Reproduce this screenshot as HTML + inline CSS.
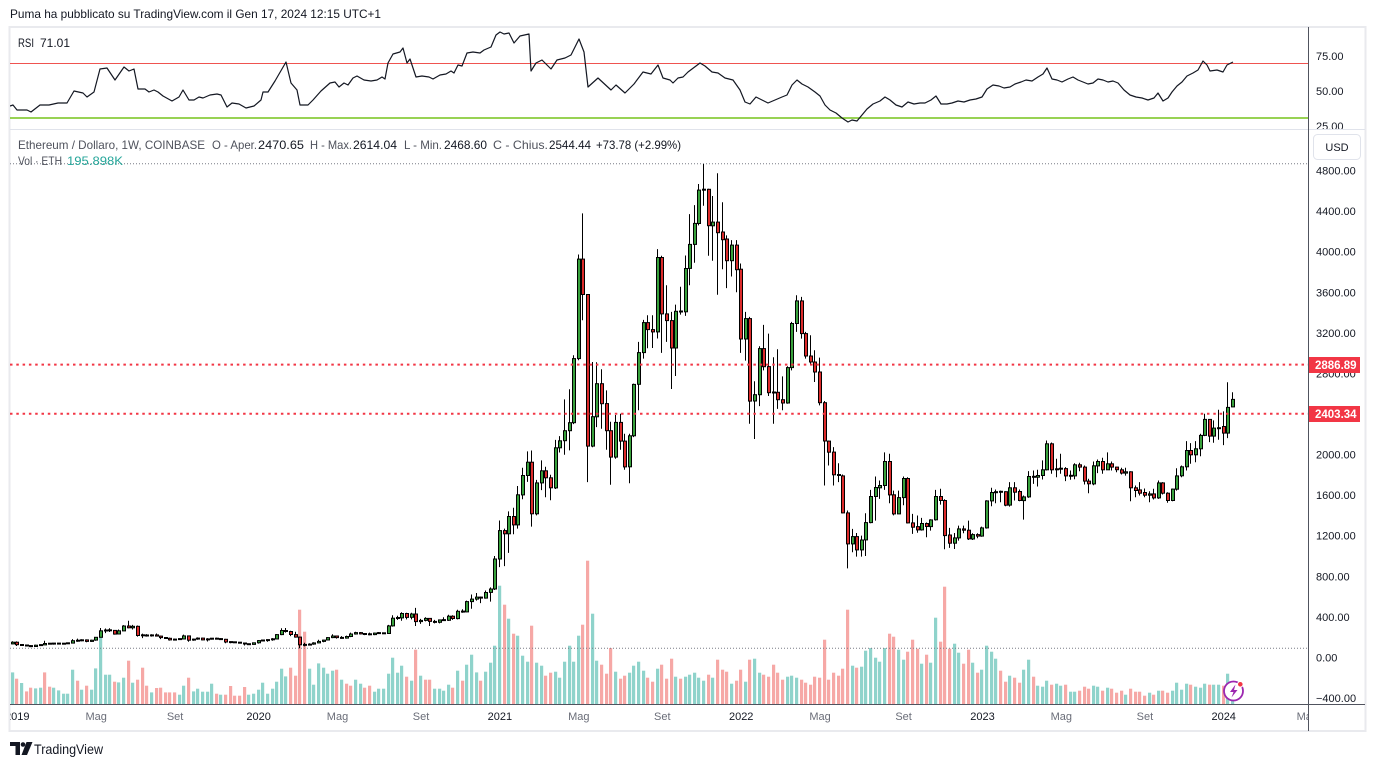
<!DOCTYPE html>
<html><head><meta charset="utf-8">
<style>
html,body{margin:0;padding:0;background:#fff;width:1375px;height:767px;overflow:hidden}
svg{display:block;font-family:"Liberation Sans",sans-serif}
</style></head>
<body>
<svg id="s" width="1375" height="767" viewBox="0 0 1375 767" xmlns="http://www.w3.org/2000/svg">
<defs>
<clipPath id="cp"><rect x="10" y="130" width="1298" height="574"/></clipPath>
<clipPath id="cr"><rect x="10" y="28" width="1298" height="101"/></clipPath>
<clipPath id="cx"><rect x="10" y="705" width="1298" height="25"/></clipPath>
</defs>
<rect x="0" y="0" width="1375" height="767" fill="#fff"/>
<text x="10" y="18" font-size="12" fill="#131722" textLength="371" lengthAdjust="spacingAndGlyphs">Puma ha pubblicato su TradingView.com il Gen 17, 2024 12:15 UTC+1</text>

<!-- frame -->
<rect x="9.5" y="27" width="1356" height="704" fill="none" stroke="#e9eaee" stroke-width="2"/>

<!-- RSI pane -->
<g clip-path="url(#cr)">
<line x1="10" x2="1308" y1="63.5" y2="63.5" stroke="#ef5350" stroke-width="1"/>
<line x1="10" x2="1308" y1="118" y2="118" stroke="#76c41c" stroke-width="1.6"/>
<polyline id="rsi" fill="none" stroke="#131722" stroke-width="1.2" stroke-linejoin="round"/>
</g>
<text x="18" y="47" font-size="12" fill="#131722" textLength="16" lengthAdjust="spacingAndGlyphs">RSI</text>
<text x="40" y="47" font-size="12" fill="#131722" textLength="30" lengthAdjust="spacingAndGlyphs">71.01</text>
<text x="1316" y="60" font-size="11" fill="#131722">75.00</text>
<text x="1316" y="95" font-size="11" fill="#131722">50.00</text>
<text x="1316" y="130" font-size="11" fill="#131722">25.00</text>
<line x1="10" x2="1365" y1="129.5" y2="129.5" stroke="#e0e3eb" stroke-width="1"/>

<!-- price pane -->
<g clip-path="url(#cp)">
<g id="vol"></g>
<line x1="10" x2="1308" y1="163.7" y2="163.7" stroke="#787b86" stroke-width="1" stroke-dasharray="1 2"/>
<line x1="10" x2="1308" y1="648.3" y2="648.3" stroke="#787b86" stroke-width="1" stroke-dasharray="1 2"/>
<g id="wick" stroke="#000" stroke-width="1"></g>
<g id="body" stroke="#000" stroke-width="1"></g>
<line x1="10" x2="1308" y1="364.6" y2="364.6" stroke="#f23645" stroke-width="2" stroke-dasharray="2.5 3.8"/>
<line x1="10" x2="1308" y1="413.7" y2="413.7" stroke="#f23645" stroke-width="2" stroke-dasharray="2.5 3.8"/>
<!-- purple icon -->
<circle cx="1233.5" cy="691" r="9.5" fill="#fff" stroke="#9c27b0" stroke-width="1.8"/>
<path d="M1235.5 684.5 L1230 692 L1233.5 692 L1231.5 697.5 L1237.5 690 L1234 690 Z" fill="#9c27b0"/>
<circle cx="1240.3" cy="684.3" r="2.8" fill="#f23645" stroke="#fff" stroke-width="1"/>
</g>

<text x="18" y="149" font-size="12" fill="#4f525c" textLength="187" lengthAdjust="spacingAndGlyphs">Ethereum / Dollaro, 1W, COINBASE</text>
<text x="212" y="149" font-size="12" fill="#4f525c" textLength="45" lengthAdjust="spacingAndGlyphs">O - Aper.</text>
<text x="258" y="149" font-size="12" fill="#131722" textLength="46" lengthAdjust="spacingAndGlyphs">2470.65</text>
<text x="310" y="149" font-size="12" fill="#4f525c" textLength="42" lengthAdjust="spacingAndGlyphs">H - Max.</text>
<text x="353" y="149" font-size="12" fill="#131722" textLength="44" lengthAdjust="spacingAndGlyphs">2614.04</text>
<text x="404" y="149" font-size="12" fill="#4f525c" textLength="38" lengthAdjust="spacingAndGlyphs">L - Min.</text>
<text x="444" y="149" font-size="12" fill="#131722" textLength="43" lengthAdjust="spacingAndGlyphs">2468.60</text>
<text x="493" y="149" font-size="12" fill="#4f525c" textLength="55" lengthAdjust="spacingAndGlyphs">C - Chius.</text>
<text x="549" y="149" font-size="12" fill="#131722" textLength="42" lengthAdjust="spacingAndGlyphs">2544.44</text>
<text x="596" y="149" font-size="12" fill="#131722" textLength="85" lengthAdjust="spacingAndGlyphs">+73.78 (+2.99%)</text>
<text x="18" y="165" font-size="12" fill="#4f525c" textLength="44" lengthAdjust="spacingAndGlyphs">Vol · ETH</text>
<text x="67" y="165" font-size="12" fill="#26a69a" textLength="56" lengthAdjust="spacingAndGlyphs">195.898K</text>

<!-- axes -->
<line x1="1308.5" x2="1308.5" y1="27" y2="731" stroke="#50535e" stroke-width="1"/>
<line x1="10" x2="1365" y1="704.5" y2="704.5" stroke="#50535e" stroke-width="1"/>

<g font-size="11" fill="#131722">
<text x="1316" y="174.6">4800.00</text>
<text x="1316" y="215.2">4400.00</text>
<text x="1316" y="255.7">4000.00</text>
<text x="1316" y="296.3">3600.00</text>
<text x="1316" y="336.9">3200.00</text>
<text x="1316" y="377.4">2800.00</text>
<text x="1316" y="458.6">2000.00</text>
<text x="1316" y="499.1">1600.00</text>
<text x="1316" y="539.7">1200.00</text>
<text x="1316" y="580.3">800.00</text>
<text x="1316" y="620.8">400.00</text>
<text x="1316" y="661.4">0.00</text>
<text x="1316" y="702">−400.00</text>
</g>
<rect x="1309" y="357" width="51" height="16" fill="#f23645"/>
<text x="1315" y="369" font-size="11.5" font-weight="bold" fill="#fff">2886.89</text>
<rect x="1309" y="406" width="51" height="16" fill="#f23645"/>
<text x="1315" y="418" font-size="11.5" font-weight="bold" fill="#fff">2403.34</text>
<rect x="1313.5" y="134.5" width="47" height="25" rx="4" fill="#fff" stroke="#e0e3eb"/>
<text x="1337" y="151" font-size="11" fill="#131722" text-anchor="middle">USD</text>

<g clip-path="url(#cx)" font-size="11" text-anchor="middle">
<text x="17.3" y="720" fill="#131722">2019</text>
<text x="96.2" y="720" fill="#6a6d78">Mag</text>
<text x="175.1" y="720" fill="#6a6d78">Set</text>
<text x="258.6" y="720" fill="#131722">2020</text>
<text x="337.5" y="720" fill="#6a6d78">Mag</text>
<text x="421" y="720" fill="#6a6d78">Set</text>
<text x="499.9" y="720" fill="#131722">2021</text>
<text x="578.8" y="720" fill="#6a6d78">Mag</text>
<text x="662.3" y="720" fill="#6a6d78">Set</text>
<text x="741.2" y="720" fill="#131722">2022</text>
<text x="820.1" y="720" fill="#6a6d78">Mag</text>
<text x="903.6" y="720" fill="#6a6d78">Set</text>
<text x="982.5" y="720" fill="#131722">2023</text>
<text x="1061.3" y="720" fill="#6a6d78">Mag</text>
<text x="1144.9" y="720" fill="#6a6d78">Set</text>
<text x="1223.7" y="720" fill="#131722">2024</text>
<text x="1307.3" y="720" fill="#6a6d78">Mag</text>
</g>

<!-- TradingView logo -->
<g fill="#131722">
<path d="M10 742 H20 V755 H15.5 V746 H10 Z"/>
<circle cx="23" cy="744.5" r="2.3"/>
<path d="M26.5 742 H32.5 L27 755 H21.5 Z"/>
</g>
<text x="34" y="754" font-size="14" fill="#131722" textLength="69" lengthAdjust="spacingAndGlyphs">TradingView</text>
</svg>

<script>
(function(){
var D=[
[133,160,130,150],[150,158,112,125],[125,132,116,120],[120,124,112,115],[115,120,102,107],[107,125,104,120],[120,126,118,123],[123,165,122,137],[137,140,130,134],[134,140,126,138],
[138,140,130,134],[134,142,132,137],[137,143,134,141],[141,180,140,165],[165,185,155,164],[164,178,160,173],[173,177,150,158],[158,175,155,170],[170,200,165,198],[198,290,196,262],
[262,285,240,268],[268,288,250,266],[266,270,225,230],[230,275,228,262],[262,318,260,310],[310,362,288,292],[292,320,275,307],[307,315,205,216],[216,235,190,220],[220,230,205,212],
[212,228,205,222],[222,236,208,210],[210,215,180,195],[195,200,182,188],[188,195,166,172],[172,185,168,180],[180,185,173,181],[181,225,178,212],[212,215,155,170],[170,185,165,180],
[180,197,175,190],[190,194,170,172],[172,190,157,182],[182,190,176,186],[186,195,180,183],[183,190,175,178],[178,182,140,151],[151,158,140,151],[151,153,142,147],[147,148,140,142],
[142,146,117,132],[132,135,125,128],[128,145,127,144],[144,172,136,166],[166,175,157,167],[167,175,155,175],[175,190,165,182],[182,230,180,225],[225,288,220,265],[265,290,245,255],
[255,262,210,225],[225,252,195,200],[200,205,90,124],[124,145,108,122],[122,140,120,131],[131,150,125,143],[143,175,140,158],[158,175,150,171],[171,200,168,195],[195,228,190,211],
[211,216,185,195],[195,210,185,190],[190,215,185,206],[206,245,200,231],[231,252,225,245],[245,250,226,232],[232,238,220,230],[230,245,218,225],[225,245,220,240],[240,250,234,240],
[240,245,232,236],[236,320,235,311],[311,415,304,387],[387,410,370,390],[390,445,362,433],[433,440,375,395],[395,440,375,428],[428,488,310,353],[353,380,330,365],[365,395,355,385],
[385,385,310,355],[355,370,335,346],[346,372,335,370],[370,395,360,366],[366,420,360,406],[406,415,370,383],[383,470,375,455],[455,475,440,448],[448,560,445,550],[550,620,480,575],
[575,635,560,595],[595,600,535,585],[585,660,580,640],[640,690,550,674],[674,1000,665,970],[970,1350,890,1250],[1250,1270,900,1218],[1218,1440,1030,1389],[1389,1475,1215,1306],[1306,1690,1270,1603],
[1603,1870,1560,1794],[1794,2031,1730,1925],[1925,2040,1290,1416],[1416,1750,1400,1721],[1721,1942,1650,1840],[1840,1880,1580,1771],[1771,1800,1550,1672],[1672,2145,1660,2067],[2067,2182,2020,2136],[2136,2544,1998,2235],
[2235,2643,2041,2314],[2314,2979,2300,2946],[2946,3973,2930,3927],[3927,4378,3325,3578],[3578,3580,1728,2083],[2083,2913,2073,2373],[2373,2910,2271,2699],[2699,2841,2255,2502],[2502,2633,2047,2235],[2235,2324,1702,1975],
[1975,2390,1958,2317],[2317,2403,2047,2133],[2133,2205,1850,1879],[1879,2205,1718,2185],[2185,2700,2172,2692],[2692,3111,2436,3005],[3005,3328,2946,3301],[3301,3374,3048,3232],[3232,3374,3051,3209],[3209,4026,3144,3943],
[3943,3960,3002,3387],[3387,3670,3111,3321],[3321,3407,2646,3051],[3051,3479,2775,3413],[3413,3654,3380,3408],[3408,3963,3367,3835],[3835,4371,3670,4072],[4072,4460,3891,4279],[4279,4668,4260,4608],[4608,4865,4454,4615],
[4615,4620,3960,4256],[4256,4549,3911,4292],[4292,4773,3575,4187],[4194,4487,3828,4118],[4125,4161,3641,3911],[3911,4115,3756,4065],[4065,4115,3600,3822],[3828,3884,3002,3140],[3140,3407,2926,3341],[3341,3357,2304,2528],
[2528,2722,2153,2590],[2590,3068,2478,3045],[3045,3278,2830,2867],[2867,3193,2577,2610],[2610,2960,2304,2614],[2614,3038,2450,2541],[2541,2771,2436,2508],[2508,2870,2501,2857],[2857,3308,2830,3292],[3292,3571,3209,3515],
[3515,3555,3143,3193],[3193,3209,2946,2972],[2972,3176,2880,2913],[2913,3028,2715,2814],[2814,2956,2485,2511],[2511,2528,1695,2133],[2133,2139,1892,2024],[2024,2074,1695,1800],[1800,1915,1728,1797],[1790,1803,1420,1425],
[1425,1448,878,1119],[1119,1267,1036,1191],[1191,1227,994,1060],[1060,1201,994,1158],[1158,1422,1000,1329],[1329,1652,1323,1586],[1586,1784,1349,1675],[1672,1744,1563,1695],[1695,2021,1652,1932],[1932,2008,1520,1603],
[1603,1645,1400,1415],[1415,1645,1415,1576],[1576,1784,1500,1764],[1764,1777,1320,1326],[1326,1415,1218,1284],[1290,1399,1230,1257],[1257,1375,1250,1320],[1320,1330,1185,1290],[1290,1362,1250,1356],[1356,1652,1349,1586],
[1586,1662,1507,1547],[1547,1560,1066,1201],[1207,1277,1080,1126],[1126,1227,1069,1178],[1178,1300,1152,1267],[1267,1300,1225,1254],[1254,1349,1158,1168],[1168,1224,1158,1211],[1211,1224,1175,1196],[1196,1290,1190,1277],
[1277,1550,1270,1543],[1543,1672,1490,1626],[1626,1655,1520,1632],[1632,1645,1530,1634],[1634,1639,1491,1501],[1501,1728,1487,1672],[1672,1728,1547,1629],[1636,1655,1540,1547],[1547,1596,1359,1583],[1583,1837,1573,1784],
[1784,1843,1711,1777],[1777,1850,1685,1794],[1794,1942,1754,1850],[1850,2139,1843,2106],[2106,2119,1810,1850],[1850,1958,1777,1860],[1860,2008,1810,1862],[1862,1876,1738,1790],[1790,1843,1751,1792],[1790,1915,1757,1899],
[1899,1919,1836,1876],[1876,1892,1705,1738],[1738,1761,1619,1711],[1711,1932,1698,1889],[1889,1951,1817,1932],[1932,1968,1810,1850],[1850,2021,1850,1909],[1909,1932,1843,1876],[1876,1880,1826,1850],[1850,1869,1803,1817],
[1817,1869,1793,1830],[1830,1836,1540,1672],[1672,1695,1579,1645],[1652,1728,1596,1619],[1626,1665,1579,1599],[1599,1639,1530,1612],[1612,1662,1557,1573],[1573,1744,1563,1721],[1721,1728,1606,1619],[1619,1629,1524,1547],
[1547,1665,1540,1659],[1659,1866,1645,1790],[1790,1892,1777,1879],[1879,2133,1843,2040],[2040,2113,1909,1998],[1998,2133,1925,2057],[2057,2205,1984,2189],[2189,2403,2182,2347],[2347,2347,2123,2182],[2182,2337,2116,2261],
[2255,2442,2146,2265],[2277,2426,2093,2212],[2212,2712,2162,2465],[2470,2614,2468,2544]
];
var V=[31.6,25.3,21,12.6,16.3,15.6,16.3,31.6,17.3,16.3,13.6,10.3,10.3,34.3,23.3,14.3,18.3,14.3,35.6,68.3,
29.3,29.3,22.3,21.6,26.3,43.3,21.3,24.3,36.3,18.3,11.6,16,16.3,11.6,11.6,11.6,9.3,18.3,26.3,12.6,15.3,12.3,12.3,20.3,10.3,9.3,9.3,18,8.3,8.3,17,9.3,10.3,14.3,21.3,10.3,15.3,22.3,35.3,27.6,36.3,28.3,
94.3,72.3,35.3,19.3,40.6,36.3,30.3,33.3,34.3,24.3,20.3,18.3,24.3,20.3,16.3,18.3,12.3,15.3,15.3,30.3,46.3,31.3,38.3,27.3,23.3,54.3,28.3,24.3,24.3,15.3,
15.3,13.3,19.3,16.3,33.3,23.3,39.3,49.3,31.6,23.3,32.3,41.3,58.3,118.3,99.3,85.3,70.3,68.3,48.3,42.3,78.3,41.3,38.3,28.3,31.3,32.3,26.3,42.3,58.3,42.3,68.3,79.3,143.3,90.3,43.3,39.3,30.3,56,32.3,25.3,28.3,31.3,38.3,42.3,33.3,26.3,22.3,35.3,39.3,25.3,45.3,27.3,25.3,27.3,29.3,31.3,26.3,23.3,29.3,26.3,44.3,34.3,32.3,20.3,23.3,34.3,22.3,44.3,45.3,31.3,29.3,27.3,39.3,31.3,24.3,27.3,28.3,26.3,24.3,21.3,19.3,27.3,26.3,64.3,24.3,31.3,
28.3,35.3,94.3,38.3,36.3,37.3,53.3,56,46.3,42.3,56,70.3,67.3,54.3,44.3,52.3,64.3,55.3,40.3,49.3,41.3,86.3,62.3,117.3,55.3,60.3,51.3,40.3,54.3,41.3,31.3,34.3,58.3,52.3,45.3,33.3,22.3,28.3,26.3,21.3,34.3,44.3,27.3,18.3,17.3,23.3,19.3,20.3,18.3,19.3,12.3,12.3,13.3,17.3,15.3,18.3,17.3,13.3,16.3,15.3,11.3,13.3,9.3,15.3,12.3,12.3,8.3,11.3,9.3,13.3,13.3,11.3,13.3,21.3,14.3,20.3,19.3,17.3,16.3,20.3,19.3,19.3,19.3,18.3,30.3,9];
var C="trtrrttrrtttttrtrttt"+"ttrttrtrrr"+"trrrrrttrt"+"ttttrtrrrr"+"rttttttttt"+"rr"+
"rrttttttrt"+"rrttrrtttt"+"tttrtrtrrt"+
"tttrtrtttr"+"ttttrtrttt"+"rttrrttttt"+"trrttrrrtr"+"rttttrrtrr"+"rtrtttttrt"+"rrrtrrtrtt"+"rrrrrtttrr"+"rrrrrr"+
"rrrtrttttt"+"trrttrrrtr"+"ttrrrttrrt"+"rttttrrtrr"+"ttrtttrttr"+"ttrrrttrtr"+"rrtrrrrtrt"+"rrttttrttt"+"rttrtt";
function Y(p){return 657.4-0.10142*p;}
var w='',b='',v='';
for(var i=0;i<D.length;i++){
 var d=D[i],cx=Math.round(12.7+4.64*i);
 var yo=Y(d[0]),yc=Y(d[3]),yh=Y(d[1]),yl=Y(d[2]);
 var t=Math.min(yo,yc),bt=Math.max(yo,yc);
 if(bt-t<1){var m=(t+bt)/2;t=m-0.5;bt=m+0.5;}
 var up=d[3]>=d[0];
 w+='<line x1="'+(cx-0.5)+'" x2="'+(cx-0.5)+'" y1="'+yh.toFixed(1)+'" y2="'+yl.toFixed(1)+'"/>';
 b+='<rect x="'+(cx-1.5)+'" y="'+t.toFixed(1)+'" width="3" height="'+(bt-t).toFixed(1)+'" fill="'+(up?'#38a13c':'#dc2b2b')+'"/>';
 if(i<V.length){var h=V[i];v+='<rect x="'+(cx-2)+'" y="'+(704-h).toFixed(1)+'" width="3.2" height="'+h.toFixed(1)+'" fill="'+(C.charAt(i)=='r'?'#f6a8a6':'#8fd3cb')+'"/>';}
}
document.getElementById('wick').innerHTML=w;
document.getElementById('body').innerHTML=b;
document.getElementById('vol').innerHTML=v;
var R=[[10,106],[13,105],[17,110],[27,110],[31,112],[40,105],[49,105],[58,103],[67,103],[74,91],[83,93],[87,97],[94,92],[100,69],[107,68],[115,80],[124,67],[129,71],[134,69],[138,89],[145,89],[149,92],[154,90],[158,92],[163,96],[172,101],[179,97],[183,90],[189,100],[194,100],[199,97],[203,98],[210,95],[217,94],[221,95],[227,107],[232,103],[239,104],[246,108],[254,106],[261,100],[263,92],[268,92],[275,81],[286,62],[291,83],[297,90],[300,105],[308,105],[313,100],[321,91],[330,83],[335,82],[339,87],[344,83],[348,85],[353,78],[357,76],[364,80],[371,81],[377,80],[382,77],[385,79],[388,63],[393,54],[400,52],[403,48],[407,63],[410,59],[416,77],[422,76],[429,77],[433,79],[440,75],[446,74],[451,71],[454,73],[458,65],[462,66],[467,53],[473,52],[480,53],[484,50],[491,47],[496,35],[500,32],[504,34],[509,33],[514,43],[520,36],[529,34],[531,71],[536,63],[542,60],[551,69],[557,60],[565,58],[571,55],[579,39],[584,52],[588,87],[598,78],[611,90],[616,85],[625,93],[634,84],[643,72],[651,74],[658,65],[663,78],[670,80],[673,83],[678,78],[683,77],[688,72],[700,63],[705,66],[712,72],[718,73],[725,78],[733,80],[740,90],[745,102],[750,104],[756,97],[762,100],[768,103],[775,100],[782,97],[787,95],[792,85],[797,80],[802,84],[808,87],[815,92],[820,96],[825,105],[830,110],[836,113],[842,118],[848,122],[852,120],[857,121],[862,115],[867,109],[873,104],[880,101],[885,97],[890,100],[896,105],[902,107],[908,102],[914,104],[920,103],[925,103],[931,100],[936,96],[941,104],[947,104],[952,103],[958,101],[964,102],[970,100],[976,99],[982,97],[987,89],[993,85],[999,86],[1004,88],[1010,87],[1015,84],[1021,82],[1026,80],[1032,81],[1038,77],[1043,74],[1047,68],[1052,79],[1057,80],[1062,82],[1068,79],[1073,77],[1078,80],[1083,82],[1088,84],[1093,83],[1098,79],[1103,80],[1108,82],[1113,81],[1118,83],[1124,90],[1130,95],[1136,97],[1142,98],[1148,100],[1154,98],[1158,93],[1163,101],[1168,98],[1172,92],[1177,86],[1182,82],[1187,76],[1193,73],[1198,70],[1203,61],[1207,65],[1210,71],[1217,70],[1223,72],[1227,65],[1233,62]];
document.getElementById('rsi').setAttribute('points',R.map(function(p){return p[0]+','+p[1];}).join(' '));
})();
</script>
</body></html>
